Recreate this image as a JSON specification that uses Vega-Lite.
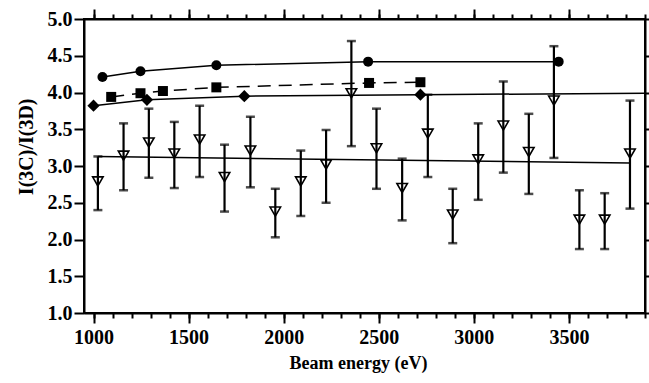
{
  "$schema": "https://vega.github.io/schema/vega-lite/v6.json",
  "width": 561,
  "height": 294,
  "autosize": "none",
  "padding": {"left": 84, "top": 19, "right": 4, "bottom": 70},
  "background": "white",
  "config": {
    "view": {"stroke": "black", "strokeWidth": 2},
    "axis": {
      "labelFont": "Liberation Serif",
      "titleFont": "Liberation Serif",
      "labelFontSize": 20,
      "labelFontWeight": "bold",
      "titleFontSize": 20,
      "labelColor": "black",
      "titleColor": "black",
      "titleFontWeight": "bold",
      "domainColor": "black",
      "domainWidth": 2,
      "tickColor": "black",
      "tickWidth": 2,
      "grid": false
    }
  },
  "datasets": {
    "d": [
      {"series": "circle", "x": 1047, "y": 4.21},
      {"series": "circle", "x": 1247, "y": 4.29},
      {"series": "circle", "x": 1646, "y": 4.37},
      {"series": "circle", "x": 2444, "y": 4.42},
      {"series": "circle", "x": 3446, "y": 4.42},
      {"series": "square", "x": 1093, "y": 3.94},
      {"series": "square", "x": 1247, "y": 3.99},
      {"series": "square", "x": 1365, "y": 4.02},
      {"series": "square", "x": 1646, "y": 4.07},
      {"series": "square", "x": 2449, "y": 4.13},
      {"series": "square", "x": 2719, "y": 4.14},
      {"series": "diamond", "x": 1000, "y": 3.82},
      {"series": "diamond", "x": 1281, "y": 3.90},
      {"series": "diamond", "x": 1793, "y": 3.95},
      {"series": "diamond", "x": 2719, "y": 3.97},
      {"series": "diamondext", "x": 3900, "y": 3.99},
      {"series": "fit", "x": 1023, "y": 3.13},
      {"series": "fit", "x": 3821, "y": 3.04}
    ],
    "tri": [
      {"x": 1023, "y": 2.79, "lo": 2.40, "hi": 3.13},
      {"x": 1158, "y": 3.14, "lo": 2.67, "hi": 3.58},
      {"x": 1291, "y": 3.32, "lo": 2.84, "hi": 3.78},
      {"x": 1425, "y": 3.17, "lo": 2.70, "hi": 3.60},
      {"x": 1558, "y": 3.36, "lo": 2.85, "hi": 3.82},
      {"x": 1689, "y": 2.85, "lo": 2.38, "hi": 3.29},
      {"x": 1825, "y": 3.21, "lo": 2.71, "hi": 3.67},
      {"x": 1956, "y": 2.38, "lo": 2.03, "hi": 2.69},
      {"x": 2090, "y": 2.79, "lo": 2.32, "hi": 3.21},
      {"x": 2223, "y": 3.02, "lo": 2.50, "hi": 3.49},
      {"x": 2356, "y": 3.99, "lo": 3.27, "hi": 4.70},
      {"x": 2488, "y": 3.24, "lo": 2.69, "hi": 3.78},
      {"x": 2623, "y": 2.70, "lo": 2.26, "hi": 3.10},
      {"x": 2758, "y": 3.44, "lo": 2.85, "hi": 3.97},
      {"x": 2889, "y": 2.34, "lo": 1.95, "hi": 2.69},
      {"x": 3023, "y": 3.09, "lo": 2.54, "hi": 3.58},
      {"x": 3155, "y": 3.55, "lo": 2.91, "hi": 4.15},
      {"x": 3289, "y": 3.19, "lo": 2.62, "hi": 3.71},
      {"x": 3421, "y": 3.89, "lo": 3.11, "hi": 4.63},
      {"x": 3555, "y": 2.27, "lo": 1.87, "hi": 2.67},
      {"x": 3688, "y": 2.27, "lo": 1.87, "hi": 2.63},
      {"x": 3821, "y": 3.17, "lo": 2.42, "hi": 3.89}
    ]
  },
  "resolve": {"axis": {"x": "independent", "y": "independent"}},
  "layer": [
    {
      "data": {"name": "d"},
      "transform": [{"filter": "datum.series === 'fit'"}],
      "mark": {"type": "line", "color": "black", "strokeWidth": 1.5},
      "encoding": {
        "x": {"field": "x", "type": "quantitative", "scale": {"domain": [950, 3900], "nice": false, "zero": false},
          "axis": {"orient": "bottom", "title": "Beam energy (eV)", "titleFontSize": 18, "titleAnchor": "start", "titleX": 205, "format": "d", "values": [1000, 1500, 2000, 2500, 3000, 3500], "tickSize": 10, "labelPadding": 4, "titlePadding": 7, "labelFlush": false}},
        "y": {"field": "y", "type": "quantitative", "scale": {"domain": [1, 5], "nice": false, "zero": false},
          "axis": {"orient": "left", "title": "I(3C)/I(3D)", "titleAnchor": "end", "titleY": 79, "values": [1, 1.5, 2, 2.5, 3, 3.5, 4, 4.5, 5], "format": ".1f", "tickSize": 10, "labelPadding": 2, "titlePadding": 11, "labelFlush": false}}
      }
    },
    {
      "data": {"name": "d"},
      "transform": [{"filter": "datum.series === 'circle'"}],
      "mark": {"type": "line", "color": "black", "strokeWidth": 1.5},
      "encoding": {
        "x": {"field": "x", "type": "quantitative",
          "axis": {"orient": "bottom", "title": null, "labels": false, "domain": false, "values": [1000,1100,1200,1300,1400,1500,1600,1700,1800,1900,2000,2100,2200,2300,2400,2500,2600,2700,2800,2900,3000,3100,3200,3300,3400,3500,3600,3700,3800,3900], "tickSize": 5}},
        "y": {"field": "y", "type": "quantitative",
          "axis": {"orient": "right", "title": null, "labels": false, "values": [1, 1.5, 2, 2.5, 3, 3.5, 4, 4.5, 5], "tickSize": 10}}
      }
    },
    {
      "data": {"name": "d"},
      "transform": [{"filter": "datum.series === 'square'"}],
      "mark": {"type": "line", "color": "black", "strokeWidth": 1.5, "strokeDash": [13, 8]},
      "encoding": {
        "x": {"field": "x", "type": "quantitative",
          "axis": {"orient": "top", "title": null, "labels": false, "values": [1000, 1500, 2000, 2500, 3000, 3500], "tickSize": 10}},
        "y": {"field": "y", "type": "quantitative", "axis": null}
      }
    },
    {
      "data": {"name": "d"},
      "transform": [{"filter": {"field": "series", "oneOf": ["diamond", "diamondext"]}}],
      "mark": {"type": "line", "color": "black", "strokeWidth": 1.5},
      "encoding": {
        "x": {"field": "x", "type": "quantitative",
          "axis": {"orient": "top", "title": null, "labels": false, "domain": false, "values": [1000,1100,1200,1300,1400,1500,1600,1700,1800,1900,2000,2100,2200,2300,2400,2500,2600,2700,2800,2900,3000,3100,3200,3300,3400,3500,3600,3700,3800,3900], "tickSize": 5}},
        "y": {"field": "y", "type": "quantitative", "axis": null}
      }
    },
    {
      "data": {"name": "d"},
      "transform": [{"filter": "datum.series === 'circle'"}],
      "mark": {"type": "point", "shape": "circle", "filled": true, "color": "black", "size": 100, "opacity": 1},
      "encoding": {
        "x": {"field": "x", "type": "quantitative", "axis": null},
        "y": {"field": "y", "type": "quantitative", "axis": null}
      }
    },
    {
      "data": {"name": "d"},
      "transform": [{"filter": "datum.series === 'square'"}],
      "mark": {"type": "point", "shape": "square", "filled": true, "color": "black", "size": 100, "opacity": 1},
      "encoding": {
        "x": {"field": "x", "type": "quantitative", "axis": null},
        "y": {"field": "y", "type": "quantitative", "axis": null}
      }
    },
    {
      "data": {"name": "d"},
      "transform": [{"filter": "datum.series === 'diamond'"}],
      "mark": {"type": "point", "shape": "diamond", "filled": true, "color": "black", "size": 150, "opacity": 1},
      "encoding": {
        "x": {"field": "x", "type": "quantitative", "axis": null},
        "y": {"field": "y", "type": "quantitative", "axis": null}
      }
    },
    {
      "data": {"name": "tri"},
      "mark": {"type": "errorbar", "color": "black", "thickness": 2.2, "ticks": {"size": 9, "thickness": 2.5, "color": "black"}},
      "encoding": {
        "x": {"field": "x", "type": "quantitative", "axis": null},
        "y": {"field": "lo", "type": "quantitative", "axis": null},
        "y2": {"field": "hi"}
      }
    },
    {
      "data": {"name": "tri"},
      "mark": {"type": "point", "shape": "triangle-down", "filled": false, "color": "black", "strokeWidth": 1.6, "size": 110, "opacity": 1},
      "encoding": {
        "x": {"field": "x", "type": "quantitative", "axis": null},
        "y": {"field": "y", "type": "quantitative", "axis": null}
      }
    }
  ]
}
